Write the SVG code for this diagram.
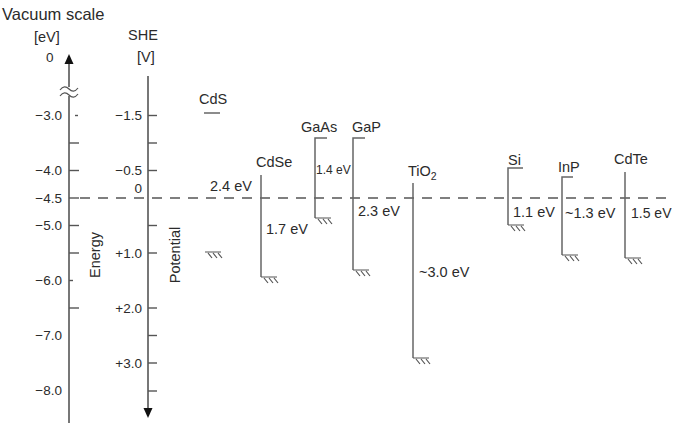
<svg xmlns="http://www.w3.org/2000/svg" xmlns:xlink="http://www.w3.org/1999/xlink" width="673" height="423" viewBox="0 0 673 423">
<style>
text{font-family:"Liberation Sans",Arial,sans-serif;fill:#2b2b2b;}
.ax{stroke:#555;stroke-width:1.6;fill:none;}
.band{stroke:#666;stroke-width:1.5;fill:none;}
.tk{stroke:#555;stroke-width:1.4;}
.num{font-size:13.5px;text-anchor:end;}
.lab{font-size:14.5px;}
.ev{font-size:14.5px;}
.h{stroke:#555;stroke-width:1.2;fill:none;}
</style>
<defs>
<g id="gnd">
<path class="h" d="M0,0H16M3,1L7,6M8,1L12,6M13,1L17,6"/>
</g>
</defs>
<rect width="673" height="423" fill="#fff"/>
<g id="connectors">
<line x1="80" y1="198" x2="673" y2="198" stroke="#555" stroke-width="1.4" stroke-dasharray="10,8"/>
</g>
<g id="energy-axis">
<text x="2" y="20" style="font-size:16.5px">Vacuum scale</text>
<text x="34" y="42" style="font-size:14.5px">[eV]</text>
<text x="46" y="62" style="font-size:13.5px">0</text>
<line class="ax" x1="69" y1="56" x2="69" y2="423"/>
<path d="M64.5,64L69,54L73.5,64Z" fill="#111"/>
<rect x="62" y="87" width="14" height="9" fill="#fff"/>
<path class="h" d="M60,90C63,86 66,86 69,89S75,92 78,88M60,96C63,92 66,92 69,95S75,98 78,94"/>
<g class="tk">
<line x1="75" y1="115.5" x2="78" y2="115.5"/>
<line x1="69" y1="143" x2="79" y2="143"/>
<line x1="69" y1="170.5" x2="79" y2="170.5"/>
<line x1="69" y1="198" x2="79" y2="198"/>
<line x1="69" y1="225.5" x2="79" y2="225.5"/>
<line x1="69" y1="253" x2="79" y2="253"/>
<line x1="69" y1="280.5" x2="73" y2="280.5"/>
<line x1="69" y1="308" x2="79" y2="308"/>
</g>
<text class="num" x="62" y="120">−3.0</text>
<text class="num" x="62" y="175">−4.0</text>
<text class="num" x="62" y="203">−4.5</text>
<text class="num" x="62" y="230">−5.0</text>
<text class="num" x="62" y="285">−6.0</text>
<text class="num" x="62" y="340">−7.0</text>
<text class="num" x="62" y="395">−8.0</text>
<text x="0" y="0" transform="translate(100,255) rotate(-90)" style="font-size:14.5px;text-anchor:middle">Energy</text>
</g>
<g id="she-axis">
<text x="128" y="40" style="font-size:14.5px">SHE</text>
<text x="137" y="62" style="font-size:14.5px">[V]</text>
<line class="ax" x1="148" y1="76" x2="148" y2="410"/>
<path d="M143.5,408L148,418L152.5,408Z" fill="#111"/>
<g class="tk">
<line x1="148" y1="115.5" x2="157" y2="115.5"/>
<line x1="148" y1="143" x2="157" y2="143"/>
<line x1="148" y1="170.5" x2="157" y2="170.5"/>
<line x1="148" y1="225.5" x2="157" y2="225.5"/>
<line x1="148" y1="253" x2="157" y2="253"/>
<line x1="148" y1="308" x2="157" y2="308"/>
<line x1="148" y1="335.5" x2="157" y2="335.5"/>
<line x1="148" y1="363" x2="157" y2="363"/>
<line x1="148" y1="391" x2="157" y2="391"/>
</g>
<text class="num" x="142" y="120">−1.5</text>
<text class="num" x="142" y="175">−0.5</text>
<text class="num" x="142" y="193">0</text>
<text class="num" x="142" y="258">+1.0</text>
<text class="num" x="142" y="313">+2.0</text>
<text class="num" x="142" y="368">+3.0</text>
<text x="0" y="0" transform="translate(180,255) rotate(-90)" style="font-size:14.5px;text-anchor:middle">Potential</text>
</g>
<g id="CdS">
<text class="lab" x="199" y="104">CdS</text>
<line class="band" x1="204" y1="113" x2="220" y2="113"/>
<use xlink:href="#gnd" x="205" y="252"/>
<text class="ev" x="210" y="191">2.4 eV</text>
</g>
<g id="CdSe">
<text class="lab" x="256" y="167">CdSe</text>
<path class="band" d="M261,175V277"/>
<use xlink:href="#gnd" x="261" y="277"/>
<text class="ev" x="266" y="234">1.7 eV</text>
</g>
<g id="GaAs">
<text class="lab" x="301" y="132">GaAs</text>
<path class="band" d="M327,138H315V218"/>
<use xlink:href="#gnd" x="315" y="218"/>
<text class="ev" x="316" y="174" style="font-size:12px">1.4 eV</text>
</g>
<g id="GaP">
<text class="lab" x="352" y="132">GaP</text>
<path class="band" d="M365,138H353V270"/>
<use xlink:href="#gnd" x="353" y="270"/>
<text class="ev" x="358" y="216">2.3 eV</text>
</g>
<g id="TiO2">
<text class="lab" x="408" y="176">TiO<tspan dy="4" style="font-size:10.5px">2</tspan></text>
<path class="band" d="M413,183V358"/>
<use xlink:href="#gnd" x="413" y="358"/>
<text class="ev" x="419" y="277">~3.0 eV</text>
</g>
<g id="Si">
<text class="lab" x="508" y="165">Si</text>
<path class="band" d="M523,168H508V225"/>
<use xlink:href="#gnd" x="508" y="225"/>
<text class="ev" x="513" y="217">1.1 eV</text>
</g>
<g id="InP">
<text class="lab" x="558" y="172">InP</text>
<path class="band" d="M573,177H562V255"/>
<use xlink:href="#gnd" x="562" y="255"/>
<text class="ev" x="565" y="218">~1.3 eV</text>
</g>
<g id="CdTe">
<text class="lab" x="614" y="164">CdTe</text>
<path class="band" d="M625,172V258"/>
<use xlink:href="#gnd" x="625" y="258"/>
<text class="ev" x="631" y="218" style="font-size:14px">1.5 eV</text>
</g>
</svg>
